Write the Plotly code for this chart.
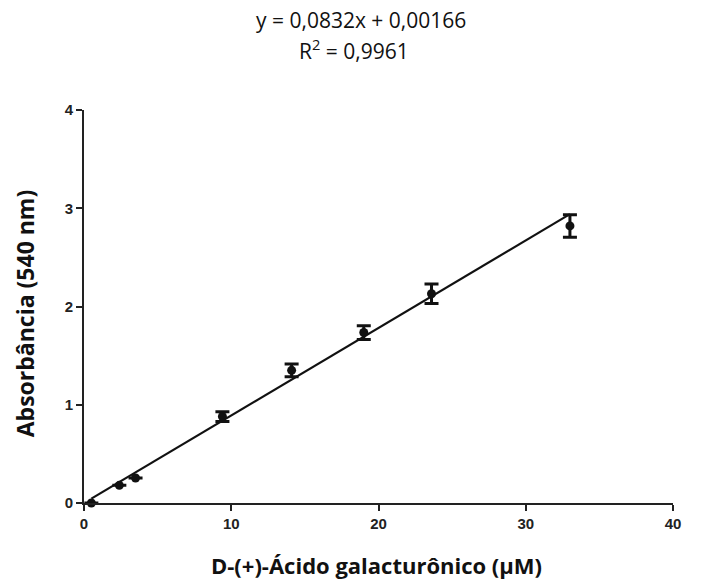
import plotly.graph_objects as go

# Data
conc = [0.5, 2.4, 3.5, 9.4, 14.1, 19.0, 23.6, 33.0]
absorb = [0.0, 0.18, 0.255, 0.88, 1.35, 1.735, 2.13, 2.82]
err = [0.0, 0.0, 0.0, 0.05, 0.065, 0.07, 0.10, 0.115]

fit_x = [0.5, 33.0]
fit_y = [0.045, 2.94]

x_ticks = [0, 10, 20, 30, 40]
y_ticks = [0, 1, 2, 3, 4]

eq_text = "y = 0,0832x + 0,00166"
r2_text = "R<sup>2</sup> = 0,9961"
x_title = "D-(+)-Ácido galacturônico (µM)"
y_title = "Absorbância (540 nm)"

fig = go.Figure()
fig.add_trace(go.Scatter(
    x=fit_x, y=fit_y, mode="lines",
    line=dict(color="#111111", width=2.2),
    hoverinfo="skip", cliponaxis=False, showlegend=False))
fig.add_trace(go.Scatter(
    x=conc, y=absorb, mode="markers",
    marker=dict(color="#111111", size=9),
    error_y=dict(type="data", array=err, visible=True, color="#111111",
                 thickness=3, width=7),
    cliponaxis=False, showlegend=False))

tickfont = dict(family="Liberation Sans, Arial", size=15, color="#222222",
                weight="bold")
fig.update_xaxes(range=[0, 40], tickvals=x_ticks, ticks="outside", ticklen=6,
                 tickwidth=2, tickcolor="#222222", showline=True,
                 linecolor="#222222", linewidth=2, showgrid=False,
                 zeroline=False, tickfont=tickfont)
fig.update_yaxes(range=[0, 4], tickvals=y_ticks, ticks="outside", ticklen=6,
                 tickwidth=2, tickcolor="#222222", showline=True,
                 linecolor="#222222", linewidth=2, showgrid=False,
                 zeroline=False, tickfont=tickfont)

fig.update_layout(
    width=713, height=583,
    margin=dict(l=84, r=40, t=110, b=80),
    plot_bgcolor="white", paper_bgcolor="white",
    font=dict(family="Liberation Sans, Arial", color="#111111"),
    annotations=[
        dict(text=eq_text, x=0.47, y=1.229, xref="paper", yref="paper",
             showarrow=False, xanchor="center", yanchor="middle",
             font=dict(family="Open Sans", size=21, color="#111111")),
        dict(text=r2_text, x=0.458, y=1.155, xref="paper", yref="paper",
             showarrow=False, xanchor="center", yanchor="middle",
             font=dict(family="Open Sans", size=21, color="#111111")),
        dict(text="<b>" + x_title + "</b>", x=0.496, y=-0.158, xref="paper",
             yref="paper", showarrow=False, xanchor="center", yanchor="middle",
             font=dict(family="Open Sans", size=22, color="#111111")),
        dict(text="<b>" + y_title + "</b>", x=-0.100, y=0.483, xref="paper",
             yref="paper", showarrow=False, xanchor="center", yanchor="middle",
             textangle=-90,
             font=dict(family="Open Sans", size=23, color="#111111")),
    ],
)

fig.write_html("out.html")
